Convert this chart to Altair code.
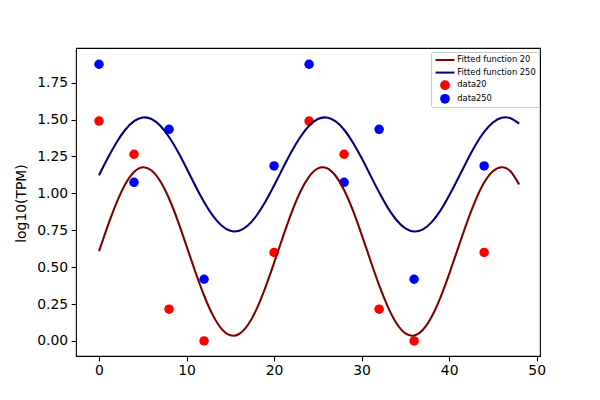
import altair as alt
import pandas as pd

# sampled x positions of the fitted curves
x_fit = [0, 1, 2, 3, 4, 5, 6, 7, 8, 9, 10, 11, 12, 13, 14, 15, 16, 17, 18, 19, 20,
         21, 22, 23, 24, 25, 26, 27, 28, 29, 30, 31, 32, 33, 34, 35, 36, 37, 38, 39,
         40, 41, 42, 43, 44, 45, 46, 47, 48]
fit20 = [0.608, 0.780, 0.936, 1.062, 1.145, 1.177, 1.155, 1.082, 0.965, 0.814,
         0.643, 0.469, 0.308, 0.175, 0.082, 0.038, 0.047, 0.108, 0.216, 0.362,
         0.529, 0.704, 0.870, 1.011, 1.113, 1.169, 1.172, 1.121, 1.023, 0.886,
         0.721, 0.547, 0.378, 0.231, 0.118, 0.051, 0.037, 0.076, 0.164, 0.294,
         0.453, 0.626, 0.797, 0.951, 1.073, 1.150, 1.177, 1.150, 1.060]
fit250 = [1.123, 1.239, 1.345, 1.431, 1.489, 1.514, 1.504, 1.458, 1.382, 1.284,
          1.170, 1.052, 0.942, 0.849, 0.782, 0.746, 0.747, 0.782, 0.850, 0.943,
          1.053, 1.170, 1.283, 1.382, 1.458, 1.504, 1.514, 1.489, 1.431, 1.345,
          1.239, 1.123, 1.007, 0.902, 0.818, 0.763, 0.742, 0.756, 0.805, 0.883,
          0.985, 1.099, 1.216, 1.326, 1.416, 1.480, 1.512, 1.509, 1.472]

x_obs = [0, 4, 8, 12, 20, 24, 28, 32, 36, 44]
obs20 = [1.49, 1.265, 0.215, 0.0, 0.60, 1.49, 1.265, 0.215, 0.0, 0.60]
obs250 = [1.875, 1.075, 1.434, 0.418, 1.186, 1.875, 1.075, 1.434, 0.418, 1.186]

series_names = ["Fitted function 20", "Fitted function 250", "data20", "data250"]
series_colors = ["#800000", "#000080", "#ff0000", "#0000ff"]
x_ticks = [0, 10, 20, 30, 40, 50]
y_ticks = [0.0, 0.25, 0.5, 0.75, 1.0, 1.25, 1.5, 1.75]

fit_df = pd.DataFrame({
    "x": x_fit + x_fit,
    "y": fit20 + fit250,
    "series": [series_names[0]] * len(x_fit) + [series_names[1]] * len(x_fit),
})
obs_df = pd.DataFrame({
    "x": x_obs + x_obs,
    "y": obs20 + obs250,
    "series": [series_names[2]] * len(x_obs) + [series_names[3]] * len(x_obs),
})

LINE_SYMBOL = "M-1.94,-0.21H1.94V0.21H-1.94Z"

color_scale = alt.Scale(domain=series_names, range=series_colors)
shape_scale = alt.Scale(domain=series_names,
                        range=[LINE_SYMBOL, LINE_SYMBOL, "circle", "circle"])

legend = alt.Legend(
    title=None, orient="none", legendX=355, legendY=4,
    labelFont="DejaVu Sans", labelFontSize=8.3, labelColor="black",
    strokeColor="#cccccc", fillColor="rgba(255,255,255,0.8)",
    cornerRadius=2, padding=3, rowPadding=3.6,
    symbolOffset=6, labelOffset=7.3, symbolSize=94, symbolStrokeWidth=0,
)

x_enc = alt.X("x:Q",
              scale=alt.Scale(domain=[-2.63, 50.38], nice=False, zero=False),
              axis=alt.Axis(values=x_ticks, format="d", title=None, labelPadding=3))
y_enc = alt.Y("y:Q",
              scale=alt.Scale(domain=[-0.102, 1.985], nice=False, zero=False),
              axis=alt.Axis(values=y_ticks, format=".2f", title="log10(TPM)",
                            titleX=-50.5, titleY=155, titleAngle=270,
                            titleBaseline="alphabetic", titleAlign="center",
                            labelPadding=3.5))

points = alt.Chart(obs_df).mark_point(filled=True, size=90, opacity=1).encode(
    x=x_enc, y=y_enc,
    color=alt.Color("series:N", scale=color_scale, legend=legend),
    shape=alt.Shape("series:N", scale=shape_scale, legend=legend),
)
lines = alt.Chart(fit_df).mark_line(strokeWidth=2.08, interpolate="natural").encode(
    x=x_enc, y=y_enc,
    color=alt.Color("series:N", scale=color_scale, legend=legend),
    detail="series:N",
)

chart = alt.layer(points, lines).properties(
    width=464, height=308,
    autosize=alt.AutoSizeParams(type="none"),
    padding={"left": 68, "top": 40, "right": 52, "bottom": 36},
).configure_view(
    stroke="black", strokeWidth=1.1,
).configure_axis(
    domain=False, grid=False,
    tickColor="black", tickSize=4.9, tickWidth=1.1,
    labelFont="DejaVu Sans", labelFontSize=13.9, labelColor="black",
    titleFont="DejaVu Sans", titleFontSize=13.9, titleFontWeight="normal",
    titleColor="black",
)

chart.save("out.html", embed_options={"renderer": "svg", "actions": False})
